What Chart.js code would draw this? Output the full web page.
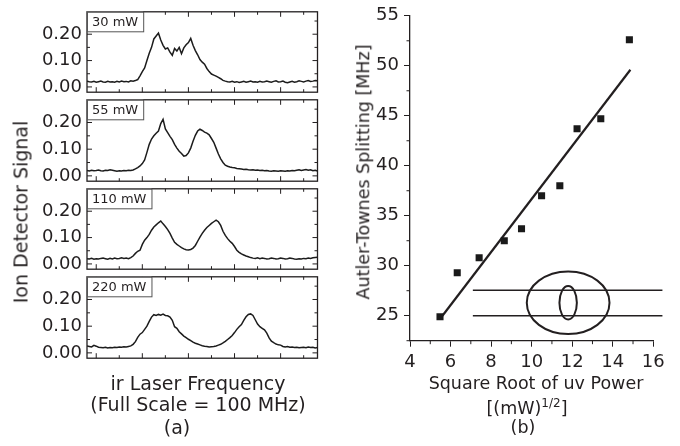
<!DOCTYPE html>
<html>
<head>
<meta charset="utf-8">
<script src="https://cdn.jsdelivr.net/npm/chart.js@4.4.0/dist/chart.umd.min.js"></script>
<style>
  body { margin: 0; background: #fff; }
  #wrap { position: relative; width: 680px; height: 446px; overflow: hidden; font-family: "DejaVu Sans", sans-serif; color: #231f20; }
  canvas { position: absolute; }
  .lbl { position: absolute; white-space: nowrap; line-height: 1; transform: translate(-50%, -50%); }
  .rot { transform: translate(-50%, -50%) rotate(-90deg); }
  sup { font-size: 12px; }
</style>
</head>
<body>
<div id="wrap">
  <canvas id="pb" width="340" height="446" style="left:340px;top:0"></canvas>
  <div class="lbl rot" style="left:21px;top:212px;font-size:19px">Ion Detector Signal</div>
  <div class="lbl" style="left:198px;top:383px;font-size:19px">ir Laser Frequency</div>
  <div class="lbl" style="left:198px;top:404px;font-size:19px">(Full Scale = 100 MHz)</div>
  <div class="lbl" style="left:177px;top:427px;font-size:19px">(a)</div>
  <div class="lbl rot" style="left:364px;top:172px;font-size:17.5px">Autler-Townes Splitting [MHz]</div>
  <div class="lbl" style="left:536px;top:384px;font-size:17.5px">Square Root of uv Power</div>
  <div class="lbl" style="left:527px;top:407px;font-size:17.5px">[(mW)<sup>1/2</sup>]</div>
  <div class="lbl" style="left:523px;top:428px;font-size:17.5px">(b)</div>
</div>
<script>
const ink = '#231f20';
const font = '"DejaVu Sans", sans-serif';

// (a) ion signal vs ir frequency, x in % of full scale (100 MHz)
const freqMHz = Array.from({length: 101}, (_, i) => i);
const signal30 = [
  0.022,0.020,0.019,0.021,0.018,0.020,0.022,0.019,0.018,0.021,
  0.019,0.020,0.018,0.021,0.019,0.022,0.020,0.021,0.019,0.023,
  0.022,0.024,0.028,0.042,0.058,0.072,0.100,0.128,0.150,0.182,
  0.193,0.204,0.178,0.158,0.144,0.148,0.132,0.120,0.146,0.136,
  0.150,0.126,0.148,0.160,0.168,0.184,0.158,0.138,0.122,0.104,
  0.094,0.086,0.070,0.058,0.049,0.045,0.041,0.036,0.031,0.025,
  0.022,0.020,0.019,0.021,0.018,0.020,0.017,0.019,0.021,0.018,
  0.020,0.022,0.019,0.020,0.018,0.021,0.019,0.020,0.022,0.020,
  0.018,0.021,0.023,0.019,0.020,0.022,0.018,0.016,0.019,0.021,
  0.018,0.020,0.023,0.021,0.019,0.022,0.024,0.021,0.022,0.024,0.023
];
const signal55 = [
  0.020,0.018,0.021,0.019,0.020,0.022,0.019,0.018,0.021,0.020,
  0.023,0.021,0.019,0.017,0.019,0.018,0.020,0.019,0.021,0.020,
  0.022,0.026,0.031,0.037,0.046,0.060,0.088,0.118,0.138,0.150,
  0.160,0.168,0.196,0.212,0.176,0.162,0.148,0.136,0.118,0.104,
  0.092,0.084,0.074,0.076,0.086,0.104,0.130,0.152,0.168,0.175,
  0.170,0.164,0.160,0.154,0.140,0.126,0.104,0.082,0.064,0.050,
  0.040,0.036,0.033,0.031,0.030,0.028,0.027,0.026,0.024,0.025,
  0.023,0.022,0.023,0.021,0.022,0.020,0.021,0.019,0.020,0.018,
  0.017,0.019,0.018,0.017,0.019,0.018,0.017,0.019,0.018,0.020,
  0.019,0.021,0.023,0.020,0.022,0.024,0.021,0.023,0.019,0.021,0.018
];
const signal110 = [
  0.020,0.019,0.021,0.018,0.020,0.019,0.021,0.022,0.020,0.018,
  0.021,0.019,0.022,0.020,0.021,0.023,0.021,0.022,0.020,0.024,
  0.030,0.040,0.048,0.052,0.074,0.090,0.100,0.112,0.128,0.140,
  0.148,0.156,0.163,0.152,0.142,0.130,0.116,0.098,0.082,0.074,
  0.068,0.062,0.057,0.054,0.053,0.055,0.060,0.070,0.086,0.102,
  0.116,0.128,0.138,0.146,0.154,0.160,0.166,0.160,0.146,0.124,
  0.108,0.096,0.086,0.078,0.066,0.052,0.044,0.038,0.034,0.030,
  0.027,0.024,0.022,0.021,0.023,0.020,0.022,0.021,0.019,0.020,
  0.022,0.021,0.019,0.020,0.022,0.021,0.019,0.020,0.022,0.021,
  0.019,0.018,0.020,0.019,0.021,0.020,0.022,0.021,0.023,0.024,0.025
];
const signal220 = [
  0.026,0.024,0.022,0.028,0.025,0.021,0.020,0.019,0.021,0.018,
  0.020,0.019,0.021,0.020,0.022,0.021,0.023,0.022,0.024,0.026,
  0.032,0.042,0.058,0.070,0.076,0.088,0.100,0.118,0.134,0.143,
  0.140,0.144,0.141,0.145,0.140,0.139,0.134,0.122,0.098,0.092,
  0.079,0.071,0.063,0.057,0.051,0.046,0.040,0.036,0.033,0.030,
  0.027,0.025,0.024,0.022,0.023,0.024,0.026,0.029,0.032,0.037,
  0.043,0.050,0.057,0.065,0.076,0.088,0.098,0.106,0.122,0.135,
  0.144,0.146,0.140,0.124,0.108,0.098,0.092,0.086,0.074,0.056,
  0.044,0.038,0.033,0.030,0.029,0.024,0.022,0.024,0.021,0.022,
  0.020,0.021,0.019,0.020,0.021,0.019,0.022,0.020,0.021,0.018,0.020
];
const panelSignals = [signal30, signal55, signal110, signal220];
const panelLabels = ['30 mW', '55 mW', '110 mW', '220 mW'];
const signalTickLabels = [0, 0.1, 0.2];
const signalTickMarks = [0, 0.05, 0.1, 0.15, 0.2, 0.25];
const freqTickMarks = [4, 14, 24, 34, 44, 54, 64, 74, 84, 94];

// (b) Autler-Townes splitting vs sqrt(uv power)
const sqrtPower = [5.48, 6.33, 7.41, 8.65, 9.50, 10.49, 11.39, 12.24, 13.41, 14.82];
const splitting = [24.9, 29.3, 30.8, 32.5, 33.7, 37.0, 38.0, 43.7, 44.7, 52.6];
const fitX = [5.6, 14.87];
const fitY = [25.0, 49.6];
const powerTicks = [4, 6, 8, 10, 12, 14, 16];
const powerMinor = [5, 7, 9, 11, 13, 15];
const splitTicks = [25, 30, 35, 40, 45, 50, 55];
const splitMinor = [22.5, 27.5, 32.5, 37.5, 42.5, 47.5, 52.5];

// level-scheme inset, drawn in data units of panel (b)
const insetLineX = [7.1, 16.45];
const insetLineY = [27.55, 25.0];
const insetEllipses = [
  {cx: 11.8, cy: 26.3, rx: 2.04, ry: 3.13},
  {cx: 11.8, cy: 26.3, rx: 0.43, ry: 1.68}
];

// frame, inward ticks and power label box for each (a) panel
const panelFrame = {
  id: 'panelFrame',
  afterDraw(chart, args, opts) {
    const {ctx, chartArea: a, scales: {x, y}} = chart;
    ctx.save();
    ctx.strokeStyle = ink;
    ctx.lineWidth = 1;
    ctx.beginPath();
    freqTickMarks.forEach((v, i) => {
      const px = x.getPixelForValue(v), len = i % 2 ? 3 : 5;
      ctx.moveTo(px, a.bottom); ctx.lineTo(px, a.bottom - len);
      ctx.moveTo(px, a.top); ctx.lineTo(px, a.top + len);
    });
    signalTickMarks.forEach((v, i) => {
      const py = y.getPixelForValue(v), len = i % 2 ? 3 : 5;
      ctx.moveTo(a.left, py); ctx.lineTo(a.left + len, py);
      ctx.moveTo(a.right, py); ctx.lineTo(a.right - len, py);
    });
    ctx.stroke();
    ctx.lineWidth = 1.3;
    ctx.strokeRect(a.left, a.top, a.right - a.left, a.bottom - a.top);
    ctx.font = '13px ' + font;
    const w = ctx.measureText(opts.label).width + 10;
    ctx.fillStyle = '#fff';
    ctx.fillRect(a.left, a.top, w, 20);
    ctx.lineWidth = 1;
    ctx.strokeStyle = '#555';
    ctx.strokeRect(a.left + 0.5, a.top + 0.5, w, 19.5);
    ctx.fillStyle = ink;
    ctx.textBaseline = 'middle';
    ctx.fillText(opts.label, a.left + 5, a.top + 10.5);
    ctx.restore();
  }
};

const panelTops = [8, 96, 185, 273];
const panelHeights = [88, 89, 88, 89];
const wrap = document.getElementById('wrap');

panelSignals.forEach((sig, i) => {
  const cv = document.createElement('canvas');
  cv.width = 340;
  cv.height = panelHeights[i] + 24;
  cv.style.left = '0px';
  cv.style.top = (panelTops[i] - 12) + 'px';
  wrap.insertBefore(cv, wrap.firstChild);
  new Chart(cv, {
    type: 'line',
    data: {
      datasets: [{
        data: freqMHz.map((f, k) => ({x: f, y: sig[k]})),
        borderColor: '#1c1c1c',
        borderWidth: 1.5,
        pointRadius: 0,
        tension: 0
      }]
    },
    options: {
      responsive: false,
      animation: false,
      layout: {padding: {top: 12, bottom: 12, left: 0, right: 22.5}},
      plugins: {legend: {display: false}, tooltip: {enabled: false}, panelFrame: {label: panelLabels[i]}},
      scales: {
        x: {type: 'linear', min: 0, max: 100, display: false},
        y: {
          min: -0.02, max: 0.285,
          afterFit: s => { s.width = 87; },
          afterBuildTicks: s => { s.ticks = signalTickLabels.map(v => ({value: v})); },
          grid: {display: false, drawTicks: false},
          border: {display: false},
          ticks: {callback: v => v.toFixed(2), color: ink, padding: 5, font: {family: font, size: 18}}
        }
      }
    },
    plugins: [panelFrame]
  });
});

// minor ticks and inset ellipses for (b)
const panelBExtras = {
  id: 'panelBExtras',
  afterDatasetsDraw(chart) {
    const {ctx, scales: {x, y}} = chart;
    ctx.save();
    ctx.strokeStyle = ink;
    ctx.lineWidth = 1;
    ctx.beginPath();
    powerMinor.forEach(v => {
      const px = x.getPixelForValue(v);
      ctx.moveTo(px, x.top); ctx.lineTo(px, x.top + 3.5);
    });
    splitMinor.forEach(v => {
      const py = y.getPixelForValue(v);
      ctx.moveTo(y.right, py); ctx.lineTo(y.right - 3.5, py);
    });
    ctx.stroke();
    ctx.lineWidth = 2;
    insetEllipses.forEach(e => {
      const cx = x.getPixelForValue(e.cx), cy = y.getPixelForValue(e.cy);
      const rx = Math.abs(x.getPixelForValue(e.cx + e.rx) - cx);
      const ry = Math.abs(y.getPixelForValue(e.cy + e.ry) - cy);
      ctx.beginPath();
      ctx.ellipse(cx, cy, rx, ry, 0, 0, 2 * Math.PI);
      ctx.stroke();
    });
    ctx.restore();
  }
};

const lineSet = (xs, ys, width) => ({
  data: xs.map((v, k) => ({x: v, y: ys[k]})),
  showLine: true, pointRadius: 0, borderColor: ink, borderWidth: width, clip: false
});

new Chart(document.getElementById('pb'), {
  type: 'scatter',
  data: {
    datasets: [
      {
        data: sqrtPower.map((v, k) => ({x: v, y: splitting[k]})),
        pointStyle: 'rect', pointRadius: 5, backgroundColor: '#1a1a1a', borderWidth: 0
      },
      lineSet(fitX, fitY, 2.2),
      lineSet(insetLineX, [insetLineY[0], insetLineY[0]], 1.5),
      lineSet(insetLineX, [insetLineY[1], insetLineY[1]], 1.5)
    ]
  },
  options: {
    responsive: false,
    animation: false,
    layout: {padding: {top: 9.3, bottom: 65.3, left: 0, right: 26.7}},
    plugins: {legend: {display: false}, tooltip: {enabled: false}},
    scales: {
      x: {
        type: 'linear', min: 4, max: 16,
        afterFit: s => { s.height = 40; },
        afterBuildTicks: s => { s.ticks = powerTicks.map(v => ({value: v})); },
        grid: {drawOnChartArea: false, tickLength: 6, tickColor: ink, tickWidth: 1},
        border: {color: ink, width: 1.3},
        ticks: {color: ink, padding: 5, maxRotation: 0, font: {family: font, size: 18}}
      },
      y: {
        type: 'linear', min: 22.5, max: 55,
        afterFit: s => { s.width = 70; },
        afterBuildTicks: s => { s.ticks = splitTicks.map(v => ({value: v})); },
        grid: {drawOnChartArea: false, tickLength: 6, tickColor: ink, tickWidth: 1},
        border: {color: ink, width: 1.3},
        ticks: {color: ink, padding: 5, font: {family: font, size: 18}}
      }
    }
  },
  plugins: [panelBExtras]
});
</script>
</body>
</html>
